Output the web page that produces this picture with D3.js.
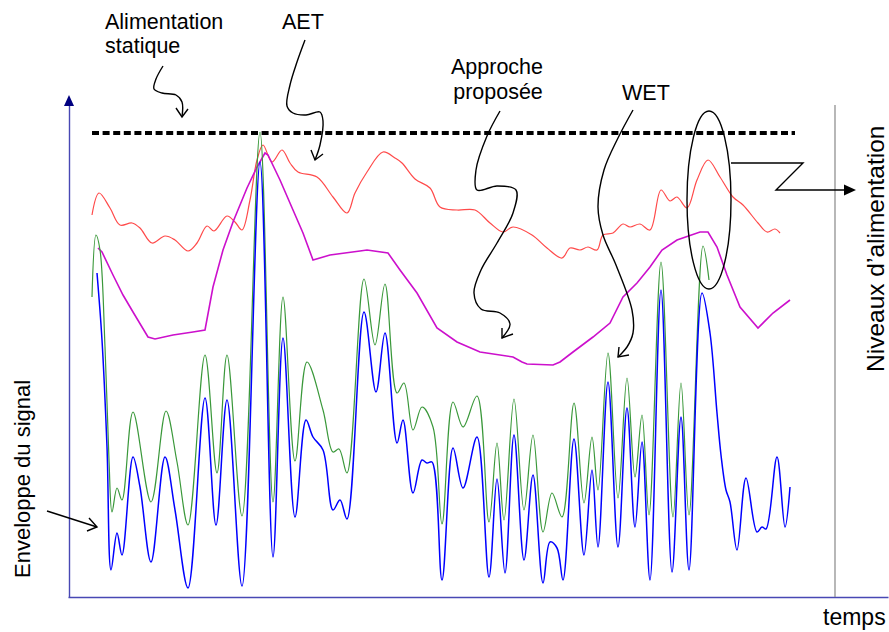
<!DOCTYPE html>
<html>
<head>
<meta charset="utf-8">
<script src="https://cdn.jsdelivr.net/npm/d3@7"></script>
<style>
  html, body { margin: 0; padding: 0; background: #fff; }
  svg { display: block; }
  text { font-family: "Liberation Sans", Arial, Helvetica, sans-serif; fill: #000; }
</style>
</head>
<body>
<svg id="chart" width="889" height="632"></svg>
<script>
// ---- Data (time t, level v) ----
const staticLevel = [[24, 464], [727, 464]];

const aet = [[24,382],[31,404],[42,389],[52,372],[64,374],[72,369],[84,354],[97,361],[107,357],[120,346],[129,354],[139,371],[146,366],[159,381],[167,375],[174,367],[182,397],[189,437],[195,452],[204,435],[214,447],[222,434],[230,425],[249,420],[265,400],[279,384],[287,404],[299,425],[315,445],[327,439],[334,434],[347,418],[362,409],[372,390],[389,387],[407,387],[422,374],[435,365],[445,370],[464,362],[479,349],[494,339],[502,349],[512,347],[520,350],[529,347],[535,362],[545,364],[555,373],[562,370],[572,373],[582,367],[593,407],[602,396],[609,400],[619,389],[629,417],[640,437],[652,420],[665,400],[675,392],[690,374],[699,365],[707,368],[712,364]];

const proposed = [[30,349],[34,345],[45,322],[55,302],[65,285],[80,260],[87,258],[105,262],[125,265],[137,267],[145,310],[155,347],[165,375],[179,409],[189,430],[197,444],[200,442],[212,417],[225,387],[235,364],[245,337],[262,342],[292,346],[299,347],[320,344],[332,327],[349,304],[369,269],[389,255],[412,245],[445,240],[454,235],[459,233],[485,232],[492,235],[505,245],[525,260],[542,274],[555,300],[569,314],[582,330],[594,347],[609,357],[632,365],[640,365],[649,350],[659,322],[672,290],[690,269],[705,284],[722,297]];

const wet = [[24,300],[28,362],[32,347],[37,250],[41,137],[44,85],[49,109],[54,97],[65,185],[83,95],[98,186],[109,135],[120,72],[137,242],[149,124],[159,242],[174,81],[192,465],[205,95],[215,300],[227,136],[239,235],[255,187],[265,145],[271,148],[279,124],[296,318],[307,252],[317,313],[329,204],[336,214],[345,167],[354,190],[365,170],[374,73],[385,195],[395,170],[409,201],[421,75],[429,154],[436,77],[446,198],[456,87],[465,162],[475,65],[484,104],[494,80],[506,194],[516,94],[524,160],[530,107],[540,244],[550,99],[559,219],[567,120],[574,182],[581,82],[593,335],[605,80],[613,214],[621,82],[635,351],[641,317]];

const envelope = [[29,324],[34,257],[39,150],[43,27],[49,64],[54,42],[65,140],[72,110],[83,35],[97,140],[107,87],[120,9],[137,199],[148,72],[159,197],[174,11],[192,435],[205,40],[215,259],[227,80],[238,177],[245,160],[255,147],[265,87],[272,97],[279,78],[296,285],[308,205],[317,264],[329,154],[335,177],[345,104],[354,137],[359,134],[364,135],[374,17],[385,149],[395,109],[409,160],[421,20],[429,118],[437,24],[446,162],[456,37],[465,122],[475,14],[482,55],[489,49],[495,17],[506,158],[516,42],[524,127],[530,50],[540,215],[550,50],[559,189],[567,70],[574,155],[582,17],[593,307],[604,25],[613,180],[621,27],[634,304],[642,264],[649,184],[653,142],[658,107],[662,95],[669,47],[678,119],[689,65],[694,70],[698,68],[709,140],[717,70],[722,110]];

const labels = {
  staticTop: "Alimentation", staticBottom: "statique",
  aet: "AET", propTop: "Approche", propBottom: "proposée",
  wet: "WET", yLeft: "Enveloppe du signal", yRight: "Niveaux d’alimentation", xLabel: "temps"
};

// ---- Scales ----
const svg = d3.select("#chart");
const x = d3.scaleLinear().domain([0, 820]).range([68, 888]);
const y = d3.scaleLinear().domain([0, 500]).range([597, 97]);

// ---- Axes ----
const axisColor = "#4848b4";
const xAxis = d3.axisBottom(x).ticks(0).tickSizeOuter(0);
svg.append("g").attr("transform", `translate(0,${y(0)})`).call(xAxis)
  .select(".domain").attr("stroke", axisColor).attr("stroke-width", 1.4);
const yAxis = d3.axisLeft(y.copy().range([597, 104])).ticks(0).tickSizeOuter(0);
svg.append("g").attr("transform", `translate(${x(1)},0)`).call(yAxis)
  .select(".domain").attr("stroke", axisColor).attr("stroke-width", 1.4);
// arrow head on y axis
svg.append("path")
  .attr("d", `M${x(1)},95 L${x(1)-5},106 L${x(1)+5},106 Z`)
  .attr("fill", "#000080");

// right gray separator
svg.append("line")
  .attr("x1", x(767)).attr("x2", x(767))
  .attr("y1", y(492)).attr("y2", y(0))
  .attr("stroke", "#888").attr("stroke-width", 1.2);

// ---- Series ----
const lineSmooth = d3.line().x(d => x(d[0])).y(d => y(d[1])).curve(d3.curveCatmullRom.alpha(0.5));
const lineStraight = d3.line().x(d => x(d[0])).y(d => y(d[1]));

svg.append("path").attr("d", lineStraight(staticLevel))
  .attr("fill", "none").attr("stroke", "#000").attr("stroke-width", 4)
  .attr("stroke-dasharray", "7,3.6");

svg.append("path").attr("d", lineSmooth(aet))
  .attr("fill", "none").attr("stroke", "#ff4a4a").attr("stroke-width", 1.2);

svg.append("path").attr("d", lineStraight(proposed))
  .attr("fill", "none").attr("stroke", "#cc10cc").attr("stroke-width", 1.6);

svg.append("path").attr("d", lineSmooth(wet))
  .attr("fill", "none").attr("stroke", "#3a983a").attr("stroke-width", 1.2);

svg.append("path").attr("d", lineSmooth(envelope))
  .attr("fill", "none").attr("stroke", "#0000ff").attr("stroke-width", 1.5);

// ---- Annotations ----
const ann = d3.line().curve(d3.curveCatmullRom.alpha(0.5));
const annStyle = sel => sel.attr("fill", "none").attr("stroke", "#000").attr("stroke-width", 1.4);

function squiggle(pts, wings) {
  svg.append("path").attr("d", ann(pts)).call(annStyle);
  const tip = pts[pts.length - 1];
  svg.append("path").attr("d", `M${wings[0][0]},${wings[0][1]} L${tip[0]},${tip[1]} L${wings[1][0]},${wings[1][1]}`).call(annStyle);
}

squiggle([[163,66],[156,79],[154,89],[162,93],[176,95],[182,102],[182,117]], [[176,108],[188,109]]);
squiggle([[305,40],[297,62],[290,85],[287,106],[293,113],[306,115],[320,112],[323,121],[320,145],[315,160]], [[311,150],[323,154]]);
squiggle([[500,111],[487,136],[476,170],[477,190],[497,186],[516,190],[513,213],[497,243],[481,270],[474,293],[481,309],[500,313],[510,324],[502,338]], [[502,328],[513,334]]);
squiggle([[633,110],[618,138],[604,170],[598,207],[603,235],[616,265],[632,310],[633,333],[627,347],[618,357]], [[619,347],[629,355]]);
squiggle([[47,511],[97,527]], [[89,518],[87,531]]);

svg.append("ellipse").attr("cx", 709).attr("cy", 200).attr("rx", 22).attr("ry", 89).call(annStyle);
svg.append("path").attr("d", "M731,163 L803,163 L776,190 L846,190").call(annStyle);
svg.append("path").attr("d", "M856,190 L844,184.5 L844,195.5 Z").attr("fill", "#000");

// ---- Texts ----
const fs = 21.5;
svg.append("text").attr("x", 105).attr("y", 29).attr("font-size", fs).text(labels.staticTop);
svg.append("text").attr("x", 105).attr("y", 53).attr("font-size", fs).text(labels.staticBottom);
svg.append("text").attr("x", 282).attr("y", 29).attr("font-size", fs).text(labels.aet);
svg.append("text").attr("x", 497).attr("y", 74).attr("font-size", fs).attr("text-anchor", "middle").text(labels.propTop);
svg.append("text").attr("x", 498).attr("y", 99).attr("font-size", fs).attr("text-anchor", "middle").text(labels.propBottom);
svg.append("text").attr("x", 622).attr("y", 100).attr("font-size", fs).text(labels.wet);
svg.append("text").attr("transform", "translate(30,578) rotate(-90)").attr("font-size", 22).text(labels.yLeft);
svg.append("text").attr("transform", "translate(884,372) rotate(-90)").attr("font-size", 24.5).text(labels.yRight);
svg.append("text").attr("x", 823).attr("y", 625).attr("font-size", 23).text(labels.xLabel);
</script>
</body>
</html>
